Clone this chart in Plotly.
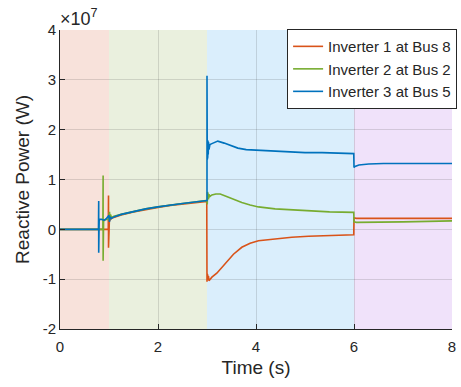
import plotly.graph_objects as go

# Region boundaries (s) and colours
region_edges = [0, 1, 3, 6, 8]
region_colors = ["#F8E2DB", "#EAF0DE", "#DAEEFC", "#F0E2FA"]

# Inverter 1 at Bus 8 (values in units of 1e7 W)
t_inv1 = [0, 0.985, 0.99, 0.99, 0.995, 1.0, 1.005, 1.01, 1.02, 1.05, 1.1, 1.25, 1.5, 1.75, 2.0, 2.25, 2.5, 2.75, 2.995,
          3.0, 3.005, 3.01, 3.015, 3.02, 3.03, 3.04, 3.06, 3.1, 3.2, 3.37, 3.54, 3.71, 3.88, 4.05, 4.39, 4.73, 5.07, 5.5, 5.995,
          6.0, 6.05, 6.5, 7.0, 7.5, 8.0]
q_inv1 = [0, 0, 0.68, -0.37, 0.05, 0.22, 0.1, 0.25, 0.18, 0.22, 0.24, 0.29, 0.35, 0.40, 0.44, 0.48, 0.51, 0.54, 0.56,
          -1.05, -0.9, -1.04, -0.92, -1.02, -0.94, -1.03, -1.0, -0.96, -0.88, -0.68, -0.50, -0.36, -0.28, -0.23, -0.19, -0.16, -0.14, -0.12, -0.11,
          0.23, 0.22, 0.22, 0.22, 0.22, 0.22]

# Inverter 2 at Bus 2
t_inv2 = [0, 0.875, 0.88, 0.88, 0.885, 0.89, 0.9, 0.95, 1.0, 1.01, 1.02, 1.03, 1.05, 1.1, 1.25, 1.5, 1.75, 2.0, 2.25, 2.5, 2.75, 2.995,
          3.0, 3.005, 3.01, 3.015, 3.02, 3.03, 3.04, 3.06, 3.1, 3.18, 3.27, 3.4, 3.54, 3.71, 3.88, 4.05, 4.39, 4.73, 5.07, 5.5, 5.995,
          6.0, 6.05, 6.5, 7.0, 7.5, 8.0]
q_inv2 = [0, 0, 1.08, -0.63, 0.1, 0.2, 0.18, 0.2, 0.2, 0.35, 0.2, 0.3, 0.24, 0.26, 0.3, 0.36, 0.41, 0.45, 0.49, 0.52, 0.55, 0.57,
          0.58, 0.5, 0.75, 0.53, 0.72, 0.6, 0.7, 0.66, 0.69, 0.71, 0.71, 0.66, 0.60, 0.54, 0.49, 0.45, 0.41, 0.39, 0.38, 0.35, 0.34,
          0.15, 0.14, 0.14, 0.15, 0.16, 0.17]

# Inverter 3 at Bus 5
t_inv3 = [0, 0.785, 0.79, 0.79, 0.795, 0.8, 0.85, 0.9, 0.95, 1.0, 1.01, 1.02, 1.05, 1.1, 1.25, 1.5, 1.75, 2.0, 2.25, 2.5, 2.75, 2.995,
          3.0, 3.0, 3.005, 3.01, 3.015, 3.02, 3.025, 3.03, 3.04, 3.06, 3.1, 3.22, 3.35, 3.5, 3.63, 3.8, 4.0, 4.3, 4.68, 5.0, 5.35, 5.7, 5.995,
          6.0, 6.02, 6.1, 6.3, 6.6, 7.0, 7.5, 8.0]
q_inv3 = [0, 0, 0.57, -0.47, 0.15, 0.2, 0.2, 0.18, 0.22, 0.28, 0.15, 0.25, 0.22, 0.25, 0.3, 0.36, 0.41, 0.45, 0.49, 0.52, 0.55, 0.57,
          0.58, 3.08, 1.4, 1.8, 1.45, 1.78, 1.5, 1.75, 1.6, 1.7, 1.72, 1.77, 1.73, 1.67, 1.63, 1.6, 1.59, 1.57, 1.55, 1.54, 1.54, 1.53, 1.52,
          1.24, 1.26, 1.29, 1.31, 1.32, 1.32, 1.32, 1.32]

series = [
    ("Inverter 1 at Bus 8", t_inv1, q_inv1, "#D95319"),
    ("Inverter 2 at Bus 2", t_inv2, q_inv2, "#77AC30"),
    ("Inverter 3 at Bus 5", t_inv3, q_inv3, "#0072BD"),
]

x_ticks = [0, 2, 4, 6, 8]
y_ticks = [-2, -1, 0, 1, 2, 3, 4]

fig = go.Figure()
for name, t, q, c in series:
    fig.add_trace(go.Scatter(x=t, y=[v * 1e7 for v in q], mode="lines", name=name,
                             line=dict(color=c, width=1.6)))

for i, c in enumerate(region_colors):
    fig.add_shape(type="rect", xref="x", yref="paper", x0=region_edges[i], x1=region_edges[i + 1],
                  y0=0, y1=1, fillcolor=c, line=dict(width=0), layer="below")

axcol = "#262626"
fig.update_layout(
    width=461, height=387,
    margin=dict(l=60, r=9, t=30, b=58, autoexpand=False),
    paper_bgcolor="white", plot_bgcolor="white",
    font=dict(family="Liberation Sans, Arial, sans-serif", color=axcol, size=15),
    showlegend=True,
    legend=dict(x=1.013, y=1.003, xanchor="right", yanchor="top", bgcolor="white",
                bordercolor=axcol, borderwidth=1, font=dict(size=15, color=axcol),
                tracegroupgap=0, itemwidth=30),
)
fig.update_xaxes(range=[0, 8], tickvals=x_ticks, ticktext=[str(v) for v in x_ticks],
                 showline=True, linecolor=axcol, linewidth=1, mirror=False,
                 ticks="inside", ticklen=5, tickcolor=axcol, ticklabelstandoff=4,
                 showgrid=True, gridcolor="rgba(38,38,38,0.15)", gridwidth=1, zeroline=False,
                 tickfont=dict(size=15), title=dict(text="Time (s)", font=dict(size=19), standoff=6))
fig.update_yaxes(range=[-2e7, 4e7], tickvals=[v * 1e7 for v in y_ticks], ticktext=[str(v) for v in y_ticks],
                 showline=True, linecolor=axcol, linewidth=1, mirror=False,
                 ticks="inside", ticklen=5, tickcolor=axcol,
                 showgrid=True, gridcolor="rgba(38,38,38,0.15)", gridwidth=1, zeroline=False,
                 tickfont=dict(size=15), title=dict(text="Reactive Power (W)", font=dict(size=19), standoff=8))
fig.add_annotation(x=0, y=1, xref="paper", yref="paper", xanchor="left", yanchor="bottom",
                   text="×10<sup>7</sup>", showarrow=False, font=dict(size=18, color=axcol), xshift=-2, yshift=-1)

fig.write_html("out.html")
